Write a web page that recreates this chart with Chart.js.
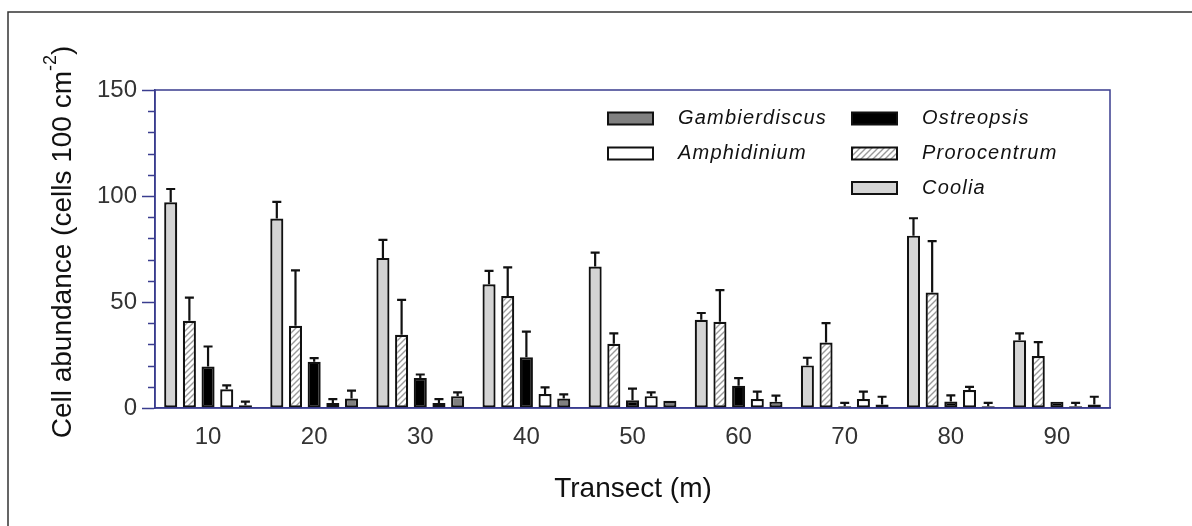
<!DOCTYPE html>
<html>
<head>
<meta charset="utf-8">
<script src="https://cdn.jsdelivr.net/npm/chart.js@4.4.1/dist/chart.umd.min.js"></script>
<style>
  body { margin: 0; background: #fff; }
  #wrap { position: relative; width: 1192px; height: 526px; }
</style>
</head>
<body>
<div id="wrap"><canvas id="chart" width="1192" height="526"></canvas></div>
<script>
// transect positions (m)
const transects = ['10', '20', '30', '40', '50', '60', '70', '80', '90'];

// mean abundances (cells 100 cm-2) and upper error (SE)
const coolia = [97, 89.4, 70.8, 58.4, 66.7, 41.6, 20.1, 81.3, 32];
const cooliaErr = [6.3, 7.8, 8.5, 6.3, 6.6, 3.2, 3.6, 8.2, 3.2];
const prorocentrum = [41.1, 38.8, 34.5, 52.8, 30.3, 40.7, 30.9, 54.5, 24.5];
const prorocentrumErr = [11, 26.1, 16.5, 13.5, 4.9, 14.9, 9.1, 24.2, 6.6];
const ostreopsis = [19.6, 21.8, 14.1, 23.9, 3.6, 10.5, 0.8, 3.1, 3];
const ostreopsisErr = [9.4, 1.7, 1.7, 12.1, 5.5, 3.6, 1.6, 2.9, 0];
const amphidinium = [8.8, 2.3, 2.3, 6.6, 5.6, 4.2, 4.2, 8.5, 0.8];
const amphidiniumErr = [1.9, 1.9, 1.9, 3.1, 1.8, 3.5, 3.5, 1.5, 1.6];
const gambierdiscus = [1.3, 4.5, 5.6, 4.5, 3.4, 3, 1.7, 0.8, 1.7];
const gambierdiscusErr = [1.7, 3.7, 1.8, 1.9, 0, 2.8, 3.6, 1.6, 3.6];

const yTicks = [0, 50, 100, 150];

const FONT = '"Liberation Sans", Arial, sans-serif';
const AXIS_BLUE = '#3a3d8f';

// diagonal hatch for Prorocentrum
function makeHatch() {
  const c = document.createElement('canvas');
  c.width = 6; c.height = 6;
  const g = c.getContext('2d');
  g.fillStyle = '#fff';
  g.fillRect(0, 0, 6, 6);
  g.strokeStyle = '#9a9a9a';
  g.lineWidth = 1.4;
  g.beginPath();
  g.moveTo(-1, 7); g.lineTo(7, -1);
  g.moveTo(-4, 4); g.lineTo(4, -4);
  g.moveTo(2, 10); g.lineTo(10, 2);
  g.stroke();
  return g.createPattern(c, 'repeat');
}
const hatch = makeHatch();

const datasets = [
  { label: 'Coolia', data: coolia, err: cooliaErr, backgroundColor: '#d4d4d4' },
  { label: 'Prorocentrum', data: prorocentrum, err: prorocentrumErr, backgroundColor: hatch },
  { label: 'Ostreopsis', data: ostreopsis, err: ostreopsisErr, backgroundColor: '#000' },
  { label: 'Amphidinium', data: amphidinium, err: amphidiniumErr, backgroundColor: '#fff' },
  { label: 'Gambierdiscus', data: gambierdiscus, err: gambierdiscusErr, backgroundColor: '#808080' }
].map(d => Object.assign(d, {
  borderColor: '#111',
  borderWidth: 2.2,
  borderSkipped: false,
  categoryPercentage: 0.88,
  barPercentage: 0.7
}));

// legend layout: [dataset label, column, row]
const legendLayout = [
  ['Gambierdiscus', 0, 0], ['Amphidinium', 0, 1],
  ['Ostreopsis', 1, 0], ['Prorocentrum', 1, 1], ['Coolia', 1, 2]
];

const extras = {
  id: 'extras',
  beforeDraw(chart) {
    const ctx = chart.ctx;
    ctx.save();
    ctx.strokeStyle = '#333';
    ctx.lineWidth = 1.5;
    ctx.beginPath();
    ctx.moveTo(8, 530);
    ctx.lineTo(8, 12);
    ctx.lineTo(1200, 12);
    ctx.stroke();
    ctx.restore();
  },
  afterDatasetsDraw(chart) {
    const ctx = chart.ctx;
    const y = chart.scales.y;
    ctx.save();
    ctx.strokeStyle = '#111';
    ctx.lineWidth = 2.2;
    chart.data.datasets.forEach((ds, i) => {
      chart.getDatasetMeta(i).data.forEach((bar, j) => {
        const e = ds.err[j];
        if (!e) return;
        const top = y.getPixelForValue(ds.data[j] + e);
        ctx.beginPath();
        ctx.moveTo(bar.x, bar.y);
        ctx.lineTo(bar.x, top);
        ctx.moveTo(bar.x - 4.5, top);
        ctx.lineTo(bar.x + 4.5, top);
        ctx.stroke();
      });
    });
    ctx.restore();
  },
  afterDraw(chart) {
    const ctx = chart.ctx;
    const a = chart.chartArea;
    const y = chart.scales.y;
    ctx.save();
    // plot frame
    ctx.strokeStyle = AXIS_BLUE;
    ctx.lineWidth = 1.5;
    ctx.strokeRect(a.left, a.top, a.right - a.left, a.bottom - a.top);
    // minor y ticks
    for (let v = 0; v <= 150; v += 10) {
      if (v % 50 === 0) continue;
      const py = Math.round(y.getPixelForValue(v)) + 0.5;
      ctx.beginPath();
      ctx.moveTo(a.left - 7, py);
      ctx.lineTo(a.left, py);
      ctx.stroke();
    }

    // legend
    const colX = [608, 852];
    const rowY = [118.5, 153.5, 188];
    ctx.font = 'italic 20px ' + FONT;
    ctx.letterSpacing = '1.2px';
    ctx.textBaseline = 'middle';
    legendLayout.forEach(([name, c, r]) => {
      const ds = chart.data.datasets.find(d => d.label === name);
      const x = colX[c], yy = rowY[r];
      ctx.fillStyle = ds.backgroundColor;
      ctx.fillRect(x, yy - 6, 45, 12);
      ctx.strokeStyle = '#111';
      ctx.lineWidth = 2;
      ctx.strokeRect(x, yy - 6, 45, 12);
      ctx.fillStyle = '#111';
      ctx.fillText(name, x + 70, yy);
    });
    ctx.letterSpacing = '0px';

    // x title
    ctx.fillStyle = '#111';
    ctx.font = '28px ' + FONT;
    ctx.textAlign = 'center';
    ctx.textBaseline = 'middle';
    ctx.fillText('Transect (m)', 633, 489);

    // y title with superscript
    const main = 'Cell abundance (cells 100 cm';
    const sup = '-2';
    const tail = ')';
    ctx.font = '28px ' + FONT;
    const w1 = ctx.measureText(main).width;
    const w3 = ctx.measureText(tail).width;
    ctx.font = '18px ' + FONT;
    const w2 = ctx.measureText(sup).width;
    const total = w1 + w2 + w3;
    ctx.translate(63, 242);
    ctx.rotate(-Math.PI / 2);
    ctx.textAlign = 'left';
    let sx = -total / 2;
    ctx.font = '28px ' + FONT;
    ctx.fillText(main, sx, 0);
    sx += w1;
    ctx.font = '18px ' + FONT;
    ctx.fillText(sup, sx, -12);
    sx += w2;
    ctx.font = '28px ' + FONT;
    ctx.fillText(tail, sx, 0);
    ctx.restore();
  }
};

new Chart(document.getElementById('chart'), {
  type: 'bar',
  data: { labels: transects, datasets: datasets },
  options: {
    responsive: false,
    animation: false,
    events: [],
    layout: { padding: { left: 0, right: 82, top: 90, bottom: 0 } },
    plugins: { legend: { display: false }, tooltip: { enabled: false } },
    scales: {
      x: {
        grid: { display: false, drawTicks: false },
        border: { display: true, color: AXIS_BLUE, width: 1.5 },
        ticks: { font: { family: FONT, size: 24 }, color: '#333', padding: 15 },
        afterFit(s) { s.height = 118; }
      },
      y: {
        min: 0,
        max: 150,
        grid: {
          drawOnChartArea: false,
          drawTicks: true,
          tickLength: 13,
          tickWidth: 1.5,
          tickColor: c => (yTicks.includes(c.tick.value) ? AXIS_BLUE : 'rgba(0,0,0,0)')
        },
        border: { display: true, color: AXIS_BLUE, width: 1.5 },
        ticks: {
          stepSize: 10,
          autoSkip: false,
          padding: 5,
          font: { family: FONT, size: 24 },
          color: '#333',
          callback: v => (yTicks.includes(v) ? v : '')
        },
        afterFit(s) { s.width = 155; }
      }
    }
  },
  plugins: [extras]
});
</script>
</body>
</html>
